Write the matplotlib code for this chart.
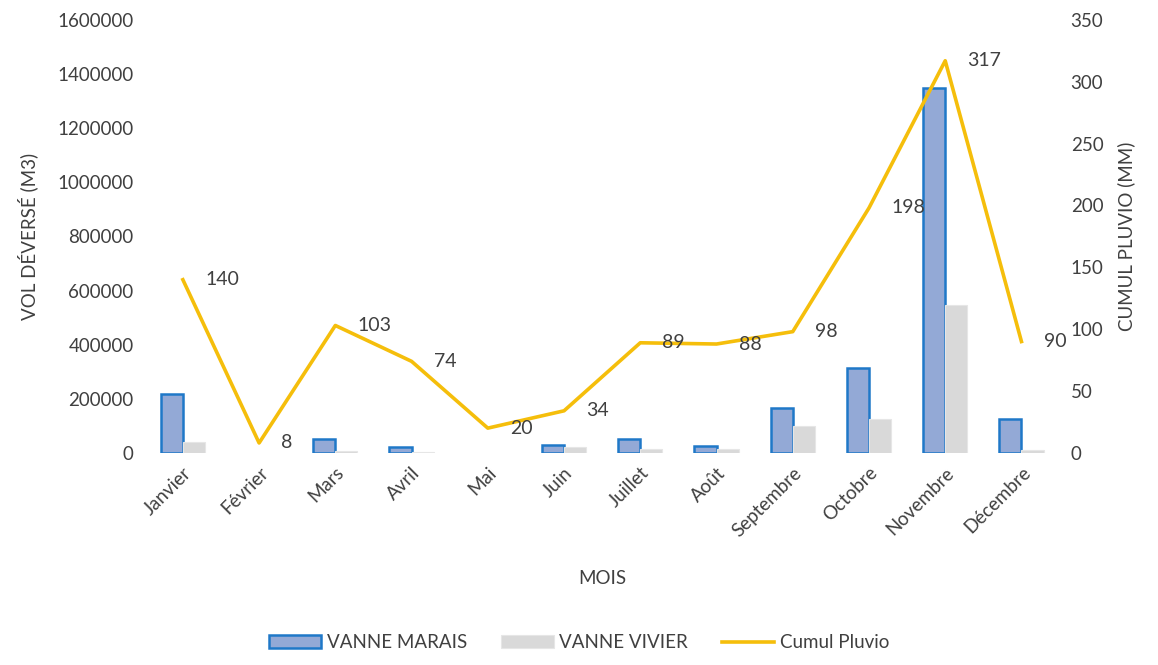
import numpy as np
import matplotlib
matplotlib.use("Agg")
import matplotlib.pyplot as plt
from matplotlib.ticker import FuncFormatter

plt.rcParams['font.family'] = ['Lato', 'DejaVu Sans']

# donnees
mois = ["Janvier", "Février", "Mars", "Avril", "Mai", "Juin", "Juillet",
        "Août", "Septembre", "Octobre", "Novembre", "Décembre"]
vanne_marais = [218000, 0, 50000, 20000, 0, 30000, 52000, 25000, 165000, 312000, 1350000, 125000]
vanne_vivier = [41000, 0, 8000, 4000, 0, 20000, 14000, 16000, 98000, 125000, 545000, 10000]
cumul_pluvio = [140, 8, 103, 74, 20, 34, 89, 88, 98, 198, 317, 90]

gris = "#404040"
x = np.arange(len(mois))
w = 0.29

fig = plt.figure(figsize=(11.58, 6.65), dpi=100)
ax = fig.add_axes([0.125, 0.319, 0.79, 0.651])
ax2 = ax.twinx()

# pas de contour pour les barres nulles
lw_marais = [1.8 if v > 0 else 0 for v in vanne_marais]
lw_vivier = [0.8 if v > 0 else 0 for v in vanne_vivier]
b1 = ax.bar(x - w / 2, vanne_marais, w, color="#93a9d6", edgecolor="#1f78c8",
            linewidth=lw_marais, label="VANNE MARAIS")
b2 = ax.bar(x + w / 2, vanne_vivier, w, color="#d9d9d9", edgecolor="#e6e6e6",
            linewidth=lw_vivier, label="VANNE VIVIER")
ln, = ax2.plot(x, cumul_pluvio, color="#f5be0b", linewidth=2.6, label="Cumul Pluvio")

# etiquettes de la courbe
for xi, v in zip(x, cumul_pluvio):
    ax2.annotate(str(v), (xi, v), xytext=(16, 0), textcoords="offset points",
                 ha="left", va="center", fontsize=14, color=gris)

ax.set_xlim(-0.5, len(mois) - 0.5)
ax.set_ylim(0, 1600000)
ax.set_yticks(np.arange(0, 1600001, 200000))
ax.yaxis.set_major_formatter(FuncFormatter(lambda v, p: "%d" % v))
ax2.set_ylim(0, 350)
ax2.set_yticks(np.arange(0, 351, 50))

ax.set_xticks(x)
ax.set_xticklabels(mois, rotation=45, ha="right", rotation_mode="anchor")

for a in (ax, ax2):
    for s in a.spines.values():
        s.set_visible(False)
    a.tick_params(length=0, labelsize=13.5, colors=gris, pad=8)

ax.set_ylabel("VOL DÉVERSÉ (M3)", fontsize=13.5, color=gris, labelpad=14)
ax2.set_ylabel("CUMUL PLUVIO (MM)", fontsize=13.5, color=gris, labelpad=10)
ax.set_xlabel("MOIS", fontsize=13.5, color=gris, labelpad=22)

leg = fig.legend(handles=[b1, b2, ln], loc="lower center", ncol=3,
                 bbox_to_anchor=(0.5, -0.005), frameon=False, fontsize=13.5,
                 handlelength=2.8, handletextpad=0.3, columnspacing=1.8)
for t in leg.get_texts():
    t.set_color(gris)

fig.savefig("out.png", dpi=100)
